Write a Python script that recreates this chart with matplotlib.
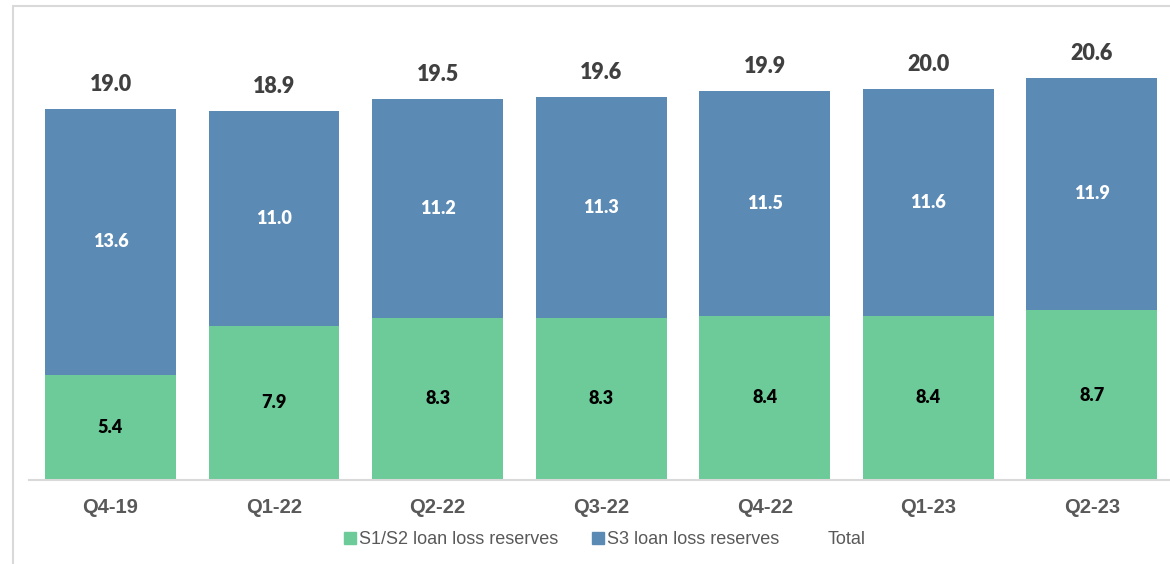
import matplotlib
matplotlib.use("Agg")
import matplotlib.pyplot as plt
from matplotlib.patches import Patch, Rectangle
import numpy as np

quarters = ["Q4-19", "Q1-22", "Q2-22", "Q3-22", "Q4-22", "Q1-23", "Q2-23"]
s12_reserves = [5.4, 7.9, 8.3, 8.3, 8.4, 8.4, 8.7]
s3_reserves = [13.6, 11.0, 11.2, 11.3, 11.5, 11.6, 11.9]
totals = [19.0, 18.9, 19.5, 19.6, 19.9, 20.0, 20.6]

GREEN = "#6CCB98"
BLUE = "#5B8AB5"
GRAY_TEXT = "#595959"
GRID = "#D9D9D9"

fig = plt.figure(figsize=(11.7, 5.64), dpi=100)
# outer chart border (only left and top edges visible)
fig.patches.append(Rectangle((13 / 1170, -0.2), 1.2, 1.2 - 6 / 564,
                             transform=fig.transFigure, fill=False,
                             edgecolor=GRID, linewidth=1.5))

ax = fig.add_axes([28.7 / 1170, 84 / 564, 1145 / 1170, 429.7 / 564])

x = np.arange(len(quarters))
w = 0.8
ax.bar(x, s12_reserves, w, color=GREEN, label="S1/S2 loan loss reserves")
ax.bar(x, s3_reserves, w, bottom=s12_reserves, color=BLUE, label="S3 loan loss reserves")

for i in range(len(quarters)):
    ax.text(x[i], s12_reserves[i] / 2, f"{s12_reserves[i]:.1f}", ha="center", va="center",
            fontsize=13, fontweight="heavy", color="black", family="Lato")
    ax.text(x[i], s12_reserves[i] + s3_reserves[i] / 2, f"{s3_reserves[i]:.1f}", ha="center",
            va="center", fontsize=13, fontweight="heavy", color="white", family="Lato")
    ax.annotate(f"{totals[i]:.1f}", (x[i], s12_reserves[i] + s3_reserves[i]),
                xytext=(0, 10), textcoords="offset points", ha="center", va="bottom",
                fontsize=15.5, fontweight="heavy", color="#404040", family="Lato")

ax.set_xlim(-0.5, len(quarters) - 0.5)
ax.set_ylim(0, 22)
ax.set_xticks(x)
ax.set_xticklabels(quarters, fontsize=14.5, fontweight="bold", color=GRAY_TEXT,
                   family="Liberation Sans")
ax.tick_params(axis="x", length=0, pad=13)
ax.set_yticks([])
for side in ["top", "right", "left"]:
    ax.spines[side].set_visible(False)
ax.spines["bottom"].set_color(GRID)
ax.spines["bottom"].set_linewidth(1.5)

handles = [Patch(color=GREEN), Patch(color=BLUE), Patch(facecolor="none", edgecolor="none")]
labels = ["S1/S2 loan loss reserves", "S3 loan loss reserves", "Total"]
fig.legend(handles, labels, loc="center", bbox_to_anchor=(605 / 1170, 1 - 540 / 564),
           ncol=3, frameon=False, handlelength=0.65, handleheight=0.65,
           handletextpad=0.15, columnspacing=1.9,
           prop={"family": "Liberation Sans", "size": 13}, labelcolor=GRAY_TEXT)

fig.savefig("out.png", dpi=100)
